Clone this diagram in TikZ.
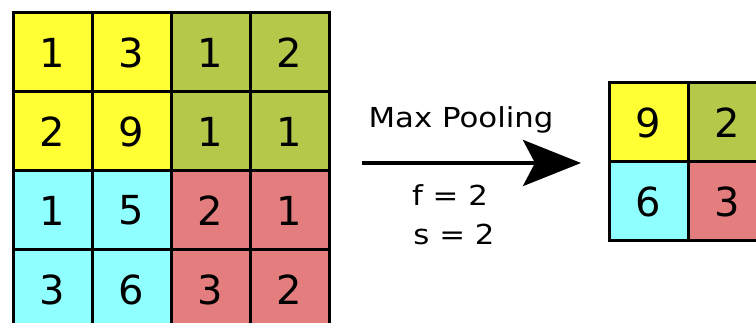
\documentclass[tikz,border=0pt]{standalone}
\usepackage{fontspec}
\setmainfont{DejaVu Sans}
\newfontfamily\lblfont[FakeStretch=1.12]{DejaVu Sans}
\usetikzlibrary{arrows.meta}
\definecolor{cyel}{RGB}{255,255,51}
\definecolor{colv}{RGB}{181,200,74}
\definecolor{ccyan}{RGB}{143,255,255}
\definecolor{cred}{RGB}{228,126,126}
\tikzset{
  cell/.style={draw=black, line width=3pt, minimum size=79pt, inner sep=0pt, font=\fontsize{40}{40}\selectfont},
  lbl/.style={font=\lblfont\fontsize{27.5}{27.5}\selectfont, anchor=base, inner sep=0pt},
}
\begin{document}
\begin{tikzpicture}[x=1pt,y=-1pt]
\useasboundingbox (0,0) rectangle (756,323);
% left grid
\node[cell, fill=cyel]  (a11) at (52.5,52.5)  {1};
\node[cell, fill=cyel]  (a12) at (131.5,52.5) {3};
\node[cell, fill=colv]  (a13) at (210.5,52.5) {1};
\node[cell, fill=colv]  (a14) at (289.5,52.5) {2};
\node[cell, fill=cyel]  (a21) at (52.5,131.5)  {2};
\node[cell, fill=cyel]  (a22) at (131.5,131.5) {9};
\node[cell, fill=colv]  (a23) at (210.5,131.5) {1};
\node[cell, fill=colv]  (a24) at (289.5,131.5) {1};
\node[cell, fill=ccyan] (a31) at (52.5,210.5)  {1};
\node[cell, fill=ccyan] (a32) at (131.5,210.5) {5};
\node[cell, fill=cred]  (a33) at (210.5,210.5) {2};
\node[cell, fill=cred]  (a34) at (289.5,210.5) {1};
\node[cell, fill=ccyan] (a41) at (52.5,289.5)  {3};
\node[cell, fill=ccyan] (a42) at (131.5,289.5) {6};
\node[cell, fill=cred]  (a43) at (210.5,289.5) {3};
\node[cell, fill=cred]  (a44) at (289.5,289.5) {2};
% right grid
\node[cell, fill=cyel]  (b11) at (648.5,122.5) {9};
\node[cell, fill=colv]  (b12) at (727.5,122.5) {2};
\node[cell, fill=ccyan] (b21) at (648.5,201.5) {6};
\node[cell, fill=cred]  (b22) at (727.5,201.5) {3};
% arrow
\coordinate (as) at (362,163);
\coordinate (ae) at (581,163);
\draw[line width=4pt, -{Stealth[length=58pt,width=46pt,inset=12pt]}] (as) -- (ae);
\node[lbl] (mp) at (461,127.5) {Max Pooling};
\node[lbl] (f) at (450,206) {f = 2};
\node[lbl] (s) at (454,245) {s = 2};
\end{tikzpicture}
\end{document}
